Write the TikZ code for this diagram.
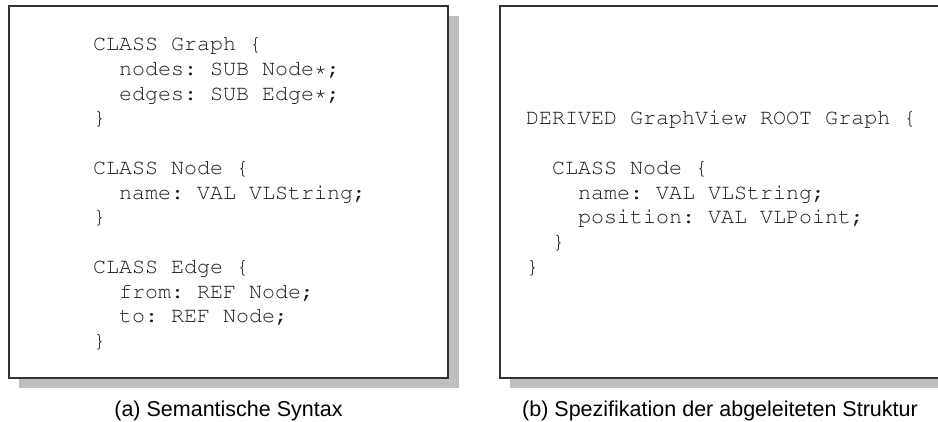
\documentclass[tikz,border=0pt]{standalone}
\usepackage[T1,TU]{fontenc}
\usepackage{fontspec}
\setmainfont{Liberation Sans}
% Courier in T1 encoding for the code listings, every space one column wide
\newcommand{\couriercode}{\fontencoding{T1}\fontfamily{pcr}\selectfont\frenchspacing}
\tikzset{
  frame/.style={draw=black!80, line width=1.2pt, fill=white},
  dropshade/.style={fill=black!25, draw=none},
  code/.style={anchor=base west, inner sep=0pt,
    font=\couriercode\fontsize{21.67}{24.75}\selectfont, text=black!90},
  caption/.style={anchor=base, inner sep=0pt,
    font=\fontsize{21.5}{25}\selectfont},
}
\begin{document}
\begin{tikzpicture}[x=1pt,y=-1pt]
\useasboundingbox (0,0) rectangle (938,421);

% panel (a): drop shadow, frame and code lines
\fill[dropshade] (19,16) rectangle (459,388);
\draw[frame] (9,6) rectangle (448,378);
\foreach \n/\i/\r/\t in {
  1/0/0/CLASS Graph \{,
  2/1/1/nodes: SUB Node*;,
  3/1/2/edges: SUB Edge*;,
  4/0/3/\},
  5/0/5/CLASS Node \{,
  6/1/6/name: VAL VLString;,
  7/0/7/\},
  8/0/9/CLASS Edge \{,
  9/1/10/from: REF Node;,
  10/1/11/to: REF Node;,
  11/0/12/\}}
  \node[code] (a\n) at (93+26*\i, 50.5+24.75*\r) {\t};
\node[caption] (capA) at (228.5,416) {(a) Semantische Syntax};

% panel (b): runs past the right border
\fill[dropshade] (510,16) rectangle (951,388);
\draw[frame] (500,6) rectangle (942,378);
\foreach \n/\i/\r/\t in {
  1/0/3/DERIVED GraphView ROOT Graph \{,
  2/1/5/CLASS Node \{,
  3/2/6/name: VAL VLString;,
  4/2/7/position: VAL VLPoint;,
  5/1/8/\},
  6/0/9/\}}
  \node[code] (b\n) at (526+26*\i, 50.5+24.75*\r) {\t};
\node[caption] (capB) at (720,416) {(b) Spezifikation der abgeleiteten Struktur};
\end{tikzpicture}
\end{document}
